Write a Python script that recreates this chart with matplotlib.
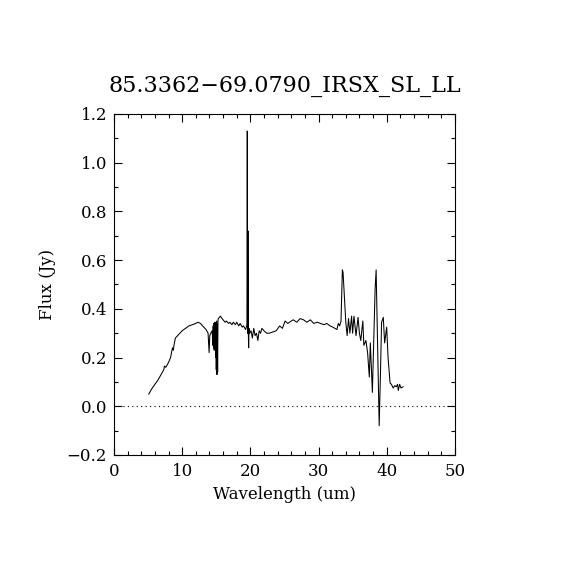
import numpy as np
import matplotlib
matplotlib.use('Agg')
import matplotlib.pyplot as plt
from matplotlib.ticker import MultipleLocator

# spectrum (wavelength in um, flux in Jy)
wave = [5.1, 5.5, 6.0, 6.5, 7.0, 7.3, 7.4, 7.6, 7.8, 8.0, 8.3, 8.5, 8.6, 8.7, 8.8, 9.0,
        9.5, 10.0, 10.5, 11.0, 11.5, 12.0, 12.3, 12.7, 13.0, 13.5, 13.8, 13.95, 14.05, 14.2,
        14.4, 14.5, 14.55, 14.6, 14.65, 14.7, 14.75, 14.8, 14.85, 14.9, 14.95, 15.0, 15.05,
        15.1, 15.15, 15.2, 15.25, 15.3, 15.6, 16.0, 16.3, 16.5, 16.8, 17.0, 17.3, 17.5,
        17.8, 18.0, 18.3, 18.5, 18.8, 19.0, 19.3, 19.5, 19.55, 19.6, 19.65, 19.7, 19.75,
        19.8, 19.9, 20.1, 20.3, 20.5, 20.7, 20.9, 21.1, 21.3, 21.5, 21.7, 22.0, 22.4, 22.8,
        23.3, 23.8, 24.3, 24.7, 25.1, 25.5, 26.0, 26.3, 26.8, 27.3, 27.8, 28.3, 28.8, 29.3,
        29.8, 30.3, 30.8, 31.2, 31.7, 32.1, 32.4, 32.7, 32.9, 33.1, 33.3, 33.5, 33.6, 33.8,
        34.0, 34.2, 34.4, 34.6, 34.85, 35.0, 35.2, 35.5, 35.8, 36.0, 36.2, 36.5, 36.65,
        36.95, 37.2, 37.45, 37.6, 37.9, 38.1, 38.3, 38.45, 38.7, 38.9, 39.1, 39.25, 39.5,
        39.7, 40.0, 40.2, 40.5, 40.7, 40.95, 41.2, 41.4, 41.6, 41.7, 41.9, 42.1, 42.4]
flux = [0.05, 0.07, 0.09, 0.11, 0.135, 0.15, 0.165, 0.16, 0.17, 0.18, 0.20, 0.23, 0.24, 0.23,
        0.25, 0.28, 0.295, 0.31, 0.32, 0.33, 0.335, 0.34, 0.345, 0.34, 0.33, 0.315, 0.30,
        0.22, 0.29, 0.30, 0.31, 0.25, 0.33, 0.24, 0.34, 0.23, 0.345, 0.25, 0.34, 0.20,
        0.345, 0.15, 0.35, 0.13, 0.34, 0.14, 0.35, 0.36, 0.37, 0.355, 0.345, 0.35, 0.34,
        0.345, 0.335, 0.345, 0.335, 0.345, 0.33, 0.34, 0.325, 0.33, 0.315, 0.335, 1.13, 0.30,
        0.72, 0.31, 0.24, 0.32, 0.30, 0.31, 0.28, 0.32, 0.29, 0.30, 0.27, 0.31, 0.30, 0.32,
        0.31, 0.30, 0.30, 0.305, 0.31, 0.33, 0.32, 0.35, 0.34, 0.35, 0.355, 0.345, 0.36,
        0.355, 0.345, 0.355, 0.34, 0.345, 0.34, 0.335, 0.34, 0.33, 0.325, 0.32, 0.315, 0.34,
        0.33, 0.35, 0.56, 0.55, 0.45, 0.345, 0.29, 0.36, 0.30, 0.37, 0.30, 0.37, 0.29, 0.365,
        0.30, 0.27, 0.35, 0.25, 0.27, 0.22, 0.12, 0.26, 0.057, 0.27, 0.48, 0.56, 0.20, -0.08,
        0.15, 0.345, 0.365, 0.26, 0.325, 0.20, 0.095, 0.09, 0.075, 0.085, 0.08, 0.09,
        0.065, 0.09, 0.075, 0.08]

xlim = [0, 50]
ylim = [-0.2, 1.2]

plt.rcParams['font.family'] = ['DejaVu Serif']

fig = plt.figure(figsize=(5.7, 5.7), dpi=100)
ax = fig.add_axes([0.2, 0.2018, 0.598, 0.5982])

ax.plot(wave, flux, color='black', linewidth=0.75)
ax.axhline(0.0, color='black', linestyle=(0, (1, 3)), linewidth=0.8)

ax.set_xlim(xlim)
ax.set_ylim(ylim)
ax.xaxis.set_major_locator(MultipleLocator(10))
ax.xaxis.set_minor_locator(MultipleLocator(2))
ax.yaxis.set_major_locator(MultipleLocator(0.2))
ax.yaxis.set_minor_locator(MultipleLocator(0.1))
ax.yaxis.set_major_formatter(plt.FuncFormatter(lambda v, p: ('%.1f' % v).replace('-', '\u2212')))
ax.tick_params(which='both', direction='in', top=True, right=True, width=0.8, labelsize=12)
ax.tick_params(which='major', length=6)
ax.tick_params(axis='x', which='major', pad=6)
ax.tick_params(axis='y', which='major', pad=5)
ax.tick_params(which='minor', length=3)
for s in ax.spines.values():
    s.set_linewidth(0.8)

ax.set_title("85.3362\u221269.0790_IRSX_SL_LL", fontsize=16, pad=16)
ax.set_xlabel("Wavelength (um)", fontsize=12, labelpad=4)
ax.set_ylabel("Flux (Jy)", fontsize=12, labelpad=8)

fig.savefig('out.png', dpi=100)
